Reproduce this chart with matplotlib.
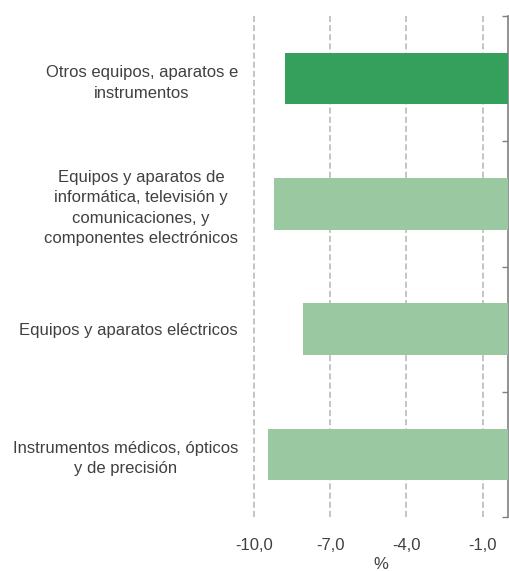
import matplotlib
matplotlib.use("Agg")
import matplotlib.pyplot as plt
from matplotlib.ticker import FuncFormatter

categories = [
    "Otros equipos, aparatos e\ninstrumentos",
    "Equipos y aparatos de\ninformática, televisión y\ncomunicaciones, y\ncomponentes electrónicos",
    "Equipos y aparatos eléctricos",
    "Instrumentos médicos, ópticos\ny de precisión",
]
values = [-8.77, -9.2, -8.06, -9.44]
bar_colors = ["#35a05c", "#9ac8a0", "#9ac8a0", "#9ac8a0"]
x_ticks = [-10.0, -7.0, -4.0, -1.0]
x_label = "%"

plt.rcParams["font.family"] = ["Liberation Sans", "DejaVu Sans"]
text_color = "#404040"
fs = 12

fig = plt.figure(figsize=(5.09, 5.71), dpi=100)
ax = fig.add_axes([254 / 509, 1 - 517 / 571, (508 - 254) / 509, (517 - 16) / 571])

ypos = list(range(len(categories)))
ax.barh(ypos, values, height=0.41, color=bar_colors, zorder=3)

ax.set_xlim(-10.0, 0.0)
ax.set_ylim(len(categories) - 0.5, -0.5)

# Vertical dashed guides
for xt in x_ticks:
    ax.axvline(xt, color="#b4b4b4", lw=1.1, ls=(0, (4, 2)), zorder=1, clip_on=False)

ax.set_xticks(x_ticks)
ax.xaxis.set_major_formatter(FuncFormatter(lambda v, p: f"{v:.1f}".replace(".", ",")))
ax.tick_params(axis="x", length=0, pad=15, labelsize=fs, labelcolor=text_color)
ax.set_xlabel(x_label, fontsize=fs, color=text_color, labelpad=3)

ax.set_yticks(ypos)
ax.set_yticklabels(categories, fontsize=fs, color=text_color,
                   multialignment="center", linespacing=1.45)
ax.tick_params(axis="y", which="major", length=0, pad=11.5)

# Category boundary ticks on the right-hand axis line
ax.set_yticks([i - 0.5 for i in range(len(categories) + 1)], minor=True)
ax.tick_params(axis="y", which="minor", left=False, right=True, direction="in",
               length=4, width=1, color="#808080")

for side in ["top", "bottom", "left"]:
    ax.spines[side].set_visible(False)
ax.spines["right"].set_color("#808080")
ax.spines["right"].set_linewidth(1.2)

fig.savefig("out.png", dpi=100, facecolor="white")
